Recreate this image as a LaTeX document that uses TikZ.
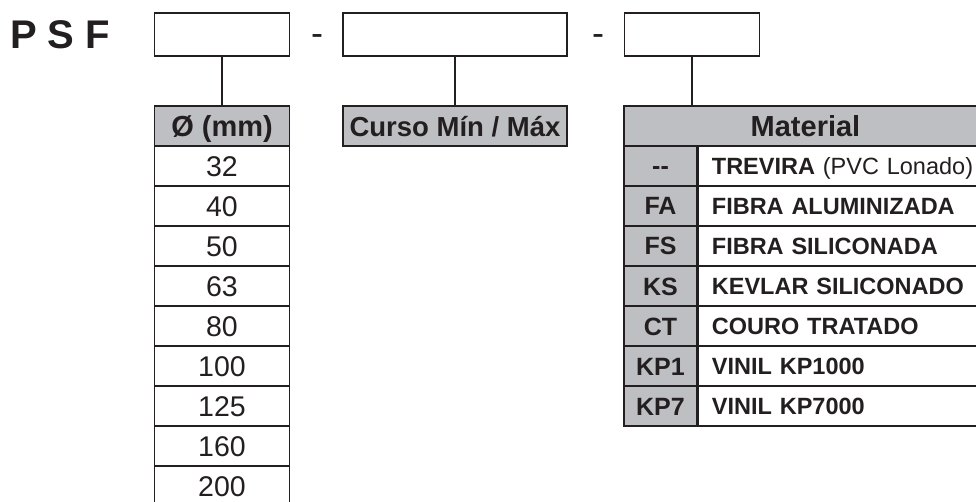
\documentclass[tikz,border=0pt]{standalone}
\usepackage{fontspec}
\setmainfont{Liberation Sans}
\usepackage{tikz}
\usetikzlibrary{positioning}
\definecolor{ink}{RGB}{35,31,32}
\definecolor{cellgray}{RGB}{190,191,194}
\tikzset{
    codebox/.style={draw=ink, line width=1.8pt, minimum height=43pt, inner sep=0pt},
    headcell/.style={draw=ink, line width=1.8pt, fill=cellgray, minimum height=40pt,
        inner sep=0pt, text height=20.8pt, text depth=0pt, font=\fontsize{29}{34}\selectfont\bfseries},
    valcell/.style={draw=ink, line width=1.8pt, fill=white, minimum width=135pt, minimum height=40pt,
        inner sep=0pt, text height=20.4pt, text depth=0pt, font=\fontsize{28.5}{34}\selectfont},
    matcode/.style={draw=ink, line width=1.8pt, fill=cellgray, minimum width=73pt, minimum height=40pt,
        inner sep=0pt, text height=18pt, text depth=0pt, font=\fontsize{25}{30}\selectfont\bfseries},
    matdesc/.style={draw=ink, line width=1.8pt, fill=white, minimum height=40pt, anchor=west,
        text width=262pt, align=left, inner xsep=14pt, inner ysep=0pt, text height=16.8pt, text depth=0pt,
        font=\fontsize{23.5}{28}\selectfont\bfseries},
    sepdash/.style={font=\fontsize{36}{40}\selectfont, inner sep=0pt, anchor=base},
    link/.style={draw=ink, line width=2pt},
}

\begin{document}
\begin{tikzpicture}[x=1pt, y=-1pt, text=ink]
\useasboundingbox (0,0) rectangle (976,502);
\clip (0,0) rectangle (976,502);
% \draw[step=20pt, very thin, transparent] (0,0) grid (976,502);
\node[anchor=base west, inner sep=0pt, font=\fontsize{40}{48}\selectfont\bfseries] (psf) at (10,49) {P S F};
\node[codebox, minimum width=135pt] (diambox) at (222,34.5) {};
\node[sepdash] (dash1) at (317,46) {-};
\node[codebox, minimum width=224pt] (strokebox) at (455,34.5) {};
\node[sepdash] (dash2) at (598,46) {-};
\node[codebox, minimum width=135pt] (matbox) at (692,34.5) {};

\node[headcell, minimum width=135pt] (diamhead) at (222,126) {Ø (mm)};
\foreach \d [count=\i from 0] in {32,40,50,63,80,100,125,160,200}
    \node[valcell] (diam\i) at (222,{166+40*\i}) {\d};

\node[headcell, minimum width=224pt, font=\fontsize{27.5}{32}\selectfont\bfseries] (strokehead) at (455,126) {Curso Mín / Máx};

\node[headcell, minimum width=363pt] (mathead) at (805.5,126) {Material};
\foreach \c/\t [count=\i from 0] in {-\kern0pt-/{TREVIRA {\mdseries(PVC Lonado)}},
        FA/FIBRA ALUMINIZADA, FS/FIBRA SILICONADA, KS/KEVLAR SILICONADO,
        CT/COURO TRATADO, KP1/VINIL KP1000, KP7/VINIL KP7000}{
    \node[matcode] (code\i) at (660.5,{166+40*\i}) {\c};
    \node[matdesc] (desc\i) at (697,{166+40*\i}) {\t};
}

\draw[link] (diambox) -- (diamhead);
\draw[link] (strokebox) -- (strokehead);
\draw[link] (matbox.south) -- (matbox.south |- mathead.north);
\end{tikzpicture}
\end{document}
